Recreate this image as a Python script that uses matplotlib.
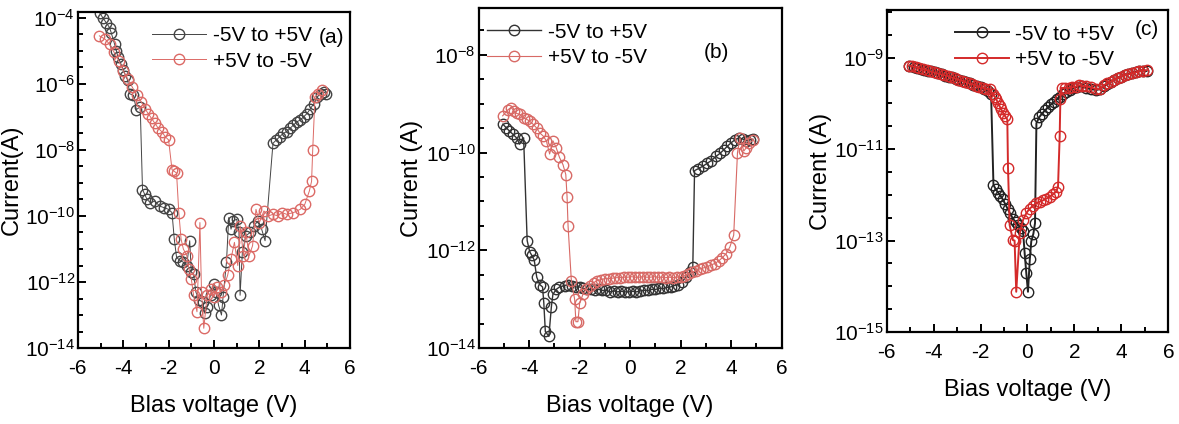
import numpy as np
import matplotlib
matplotlib.use('Agg')
from matplotlib import pyplot as plt
from matplotlib.ticker import FixedLocator, LogFormatterSciNotation, MultipleLocator, NullFormatter

plt.rcParams['font.family'] = ['Liberation Sans', 'DejaVu Sans']
plt.rcParams['mathtext.fontset'] = 'custom'
plt.rcParams['mathtext.rm'] = 'Liberation Sans'
plt.rcParams['axes.unicode_minus'] = False

# ---- panel (a): values, current as log10(A)
a_up_v = [-5.04, -4.9, -4.75, -4.6, -4.53, -4.38, -4.3, -4.23, -4.1, -4.0, -3.9, -3.8, -3.72, -3.55,
          -3.42, -3.25, -3.15, -3.05, -2.95, -2.8, -2.6, -2.4, -2.2, -2.0, -1.85, -1.75, -1.65, -1.5,
          -1.35, -1.2, -1.07, -1.0, -0.9, -0.8, -0.65, -0.5, -0.4, -0.3, -0.15, 0.0, 0.1, 0.2, 0.33,
          0.4, 0.55, 0.65, 0.75, 0.85, 1.0, 1.1, 1.15, 1.25, 1.4, 1.6, 1.75, 1.95, 2.1, 2.25, 2.6,
          2.75, 2.9, 3.05, 3.2, 3.35, 3.5, 3.65, 3.8, 3.95, 4.1, 4.25, 4.4, 4.55, 4.7, 4.85, 4.95]
a_up_logi = [-3.85, -4.0, -4.15, -4.3, -4.45, -4.8, -5.0, -5.2, -5.4, -5.57, -5.75, -5.9, -6.3, -6.35,
             -6.78, -6.7, -9.2, -9.35, -9.5, -9.6, -9.55, -9.7, -9.75, -9.8, -9.9, -10.7, -11.25, -11.35,
             -11.4, -11.5, -10.75, -11.7, -11.75, -12.3, -12.55, -12.6, -12.95, -12.75, -12.4, -12.05,
             -12.3, -12.7, -13.0, -12.45, -11.4, -10.05, -10.4, -10.15, -10.1, -10.5, -12.4, -11.1,
             -10.6, -10.5, -10.3, -10.15, -10.4, -10.75, -7.8, -7.7, -7.6, -7.5, -7.45, -7.35, -7.25,
             -7.15, -7.1, -7.0, -6.9, -6.75, -6.6, -6.4, -6.3, -6.25, -6.3]
a_dn_v = [4.75, 4.6, 4.45, 4.35, 4.3, 4.2, 4.0, 3.8, 3.5, 3.2, 3.0, 2.8, 2.6, 2.4, 2.2, 2.0, 1.85,
          1.7, 1.55, 1.4, 1.3, 1.15, 1.05, 0.9, 0.75, 0.6, 0.45, 0.3, 0.15, 0.0, -0.15, -0.3, -0.45,
          -0.55, -0.62, -0.75, -0.9, -1.0, -1.1, -1.2, -1.35, -1.45, -1.55, -1.65, -1.75, -1.85, -2.0,
          -2.15, -2.3, -2.45, -2.6, -2.75, -2.9, -3.05, -3.2, -3.4, -3.6, -3.8, -4.0, -4.2, -4.4,
          -4.6, -4.8, -5.05]
a_dn_logi = [-6.2, -6.3, -6.4, -8.0, -8.95, -9.25, -9.65, -9.8, -9.9, -9.95, -9.9, -10.0, -9.95,
             -10.0, -9.85, -10.2, -9.8, -10.9, -11.2, -10.5, -11.2, -10.3, -11.5, -10.8, -11.3, -11.8,
             -12.1, -12.3, -12.15, -12.45, -12.2, -12.4, -13.4, -12.3, -10.2, -12.9, -12.4, -11.9,
             -11.6, -11.2, -11.0, -10.7, -9.9, -8.7, -8.65, -8.6, -7.7, -7.6, -7.45, -7.35, -7.2,
             -7.05, -6.9, -6.75, -6.55, -6.35, -6.1, -5.85, -5.6, -5.3, -5.05, -4.8, -4.65, -4.55]

# ---- panel (b)
b_up_v = [-5.04, -4.9, -4.8, -4.64, -4.5, -4.38, -4.22, -4.08, -3.98, -3.9, -3.8, -3.7, -3.58, -3.47,
          -3.42, -3.36, -3.22, -3.12, -3.06, -2.93, -2.8, -2.6, -2.45, -2.3, -2.15, -2.0, -1.85, -1.7,
          -1.55, -1.4, -1.25, -1.1, -0.95, -0.8, -0.65, -0.5, -0.35, -0.2, -0.05, 0.1, 0.25, 0.4, 0.55,
          0.7, 0.85, 1.0, 1.15, 1.3, 1.45, 1.6, 1.75, 1.9, 2.05, 2.2, 2.35, 2.48, 2.55, 2.7, 2.88,
          3.05, 3.2, 3.4, 3.55, 3.7, 3.85, 4.0, 4.15, 4.3, 4.45, 4.6, 4.75, 4.86]
b_up_logi = [-9.42, -9.5, -9.55, -9.63, -9.7, -9.83, -9.7, -11.8, -12.03, -12.1, -12.2, -12.55, -12.7,
             -12.75, -13.08, -13.66, -13.76, -13.15, -12.9, -12.8, -12.75, -12.72, -12.7, -12.72,
             -12.75, -12.75, -12.78, -12.8, -12.8, -12.82, -12.8, -12.82, -12.82, -12.85, -12.83,
             -12.85, -12.84, -12.85, -12.85, -12.84, -12.85, -12.83, -12.82, -12.82, -12.8, -12.8,
             -12.78, -12.78, -12.76, -12.75, -12.72, -12.7, -12.65, -12.55, -12.45, -12.34, -10.37,
             -10.33, -10.28, -10.22, -10.17, -10.08, -10.02, -9.95, -9.87, -9.8, -9.74, -9.7, -9.72,
             -9.76, -9.74, -9.73]
b_dn_v = [4.86, 4.72, 4.6, 4.5, 4.35, 4.25, 4.1, 3.95, 3.8, 3.65, 3.5, 3.35, 3.2, 3.05, 2.9, 2.75,
          2.6, 2.45, 2.3, 2.15, 2.0, 1.85, 1.7, 1.55, 1.4, 1.25, 1.1, 0.95, 0.8, 0.65, 0.5, 0.35, 0.2,
          0.05, -0.1, -0.25, -0.4, -0.55, -0.7, -0.85, -1.0, -1.15, -1.3, -1.45, -1.6, -1.75, -1.87,
          -2.0, -2.07, -2.15, -2.2, -2.33, -2.46, -2.5, -2.55, -2.66, -2.8, -2.93, -3.06, -3.19, -3.32,
          -3.45, -3.58, -3.7, -3.85, -3.98, -4.1, -4.2, -4.38, -4.5, -4.6, -4.72, -4.85, -5.05]
b_dn_logi = [-9.75, -9.8, -9.9, -9.97, -9.7, -10.0, -11.69, -11.93, -12.07, -12.15, -12.22, -12.27,
             -12.3, -12.34, -12.36, -12.38, -12.42, -12.45, -12.48, -12.52, -12.54, -12.55, -12.56,
             -12.55, -12.56, -12.55, -12.55, -12.54, -12.55, -12.55, -12.54, -12.55, -12.55, -12.54,
             -12.55, -12.55, -12.56, -12.56, -12.57, -12.58, -12.58, -12.6, -12.62, -12.66, -12.72,
             -12.8, -12.9, -13.08, -13.46, -13.46, -13.0, -12.62, -11.5, -10.9, -10.45, -10.25, -10.1,
             -9.9, -9.76, -10.03, -9.76, -9.66, -9.6, -9.5, -9.42, -9.36, -9.32, -9.3, -9.22, -9.2,
             -9.15, -9.08, -9.13, -9.25]

# ---- panel (c)
c_up_v = [-5.03, -4.85, -4.7, -4.55, -4.4, -4.25, -4.1, -3.95, -3.8, -3.65, -3.5, -3.35, -3.2, -3.05,
          -2.9, -2.75, -2.6, -2.45, -2.3, -2.15, -2.0, -1.85, -1.7, -1.55, -1.45, -1.35, -1.25, -1.15,
          -1.05, -0.95, -0.85, -0.75, -0.62, -0.5, -0.4, -0.28, -0.19, -0.12, -0.05, 0.02, 0.1, 0.16,
          0.25, 0.32, 0.38, 0.5, 0.62, 0.75, 0.88, 1.0, 1.12, 1.25, 1.37, 1.5, 1.66, 1.8, 1.95, 2.1,
          2.3, 2.5, 2.7, 2.9, 3.08, 3.25, 3.4, 3.55, 3.7, 3.85, 4.0, 4.15, 4.3, 4.45, 4.6, 4.75, 4.9,
          5.07]
c_up_logi = [-9.18, -9.2, -9.22, -9.24, -9.26, -9.28, -9.3, -9.32, -9.34, -9.36, -9.39, -9.41, -9.43,
             -9.46, -9.48, -9.51, -9.53, -9.56, -9.59, -9.62, -9.65, -9.69, -9.73, -9.8, -11.78,
             -11.88, -11.95, -12.02, -12.1, -12.2, -12.3, -12.4, -12.52, -12.6, -12.66, -12.72, -12.8,
             -13.28, -13.72, -14.12, -13.4, -13.02, -12.85, -12.62, -10.43, -10.3, -10.22, -10.15,
             -10.08, -10.02, -9.97, -9.91, -9.85, -9.8, -9.74, -9.7, -9.66, -9.64, -9.62, -9.66,
             -9.69, -9.7, -9.69, -9.62, -9.57, -9.52, -9.48, -9.44, -9.41, -9.38, -9.35, -9.33, -9.31,
             -9.3, -9.28, -9.29]
c_dn_v = [5.07, 4.9, 4.75, 4.6, 4.45, 4.3, 4.15, 4.0, 3.85, 3.7, 3.55, 3.4, 3.25, 3.08, 2.9, 2.7,
          2.5, 2.3, 2.2, 2.05, 1.9, 1.75, 1.6, 1.45, 1.4, 1.37, 1.3, 1.22, 1.1, 0.95, 0.8, 0.66, 0.52,
          0.38, 0.24, 0.09, -0.05, -0.19, -0.33, -0.48, -0.55, -0.62, -0.76, -0.83, -0.86, -0.95,
          -1.05, -1.12, -1.19, -1.26, -1.33, -1.4, -1.47, -1.6, -1.75, -1.9, -2.05, -2.2, -2.35, -2.5,
          -2.65, -2.8, -2.95, -3.1, -3.25, -3.4, -3.55, -3.7, -3.85, -4.0, -4.15, -4.3, -4.45, -4.6,
          -4.75, -4.9, -5.03]
c_dn_logi = [-9.27, -9.28, -9.3, -9.32, -9.34, -9.36, -9.38, -9.41, -9.44, -9.48, -9.52, -9.56, -9.6,
             -9.69, -9.68, -9.65, -9.62, -9.62, -9.6, -9.63, -9.65, -9.66, -9.66, -9.66, -9.9, -10.72,
             -11.82, -11.93, -11.98, -12.04, -12.08, -12.12, -12.15, -12.18, -12.24, -12.3, -12.4,
             -12.55, -12.84, -14.12, -13.0, -12.99, -12.66, -11.41, -10.35, -10.28, -10.2, -10.13,
             -10.06, -9.98, -9.91, -9.85, -9.8, -9.69, -9.68, -9.66, -9.64, -9.61, -9.58, -9.56,
             -9.53, -9.5, -9.48, -9.45, -9.43, -9.4, -9.38, -9.36, -9.34, -9.32, -9.3, -9.27, -9.25,
             -9.23, -9.21, -9.19, -9.17]

lab_up = '-5V to +5V'
lab_dn = '+5V to -5V'


def style(ax, ylo, yhi, major_exp, xlabel, ylabel):
    ax.set_yscale('log')
    ax.set_xlim(-6, 6)
    ax.set_ylim(ylo, yhi)
    ax.xaxis.set_major_locator(MultipleLocator(2))
    ax.xaxis.set_minor_locator(MultipleLocator(1))
    ax.yaxis.set_major_locator(FixedLocator([10.0 ** e for e in major_exp]))
    ax.yaxis.set_major_formatter(LogFormatterSciNotation())
    lo, hi = np.log10(ylo), np.log10(yhi)
    ax.yaxis.set_minor_locator(FixedLocator(10.0 ** np.arange(np.floor(lo), hi, 0.5)))
    ax.yaxis.set_minor_formatter(NullFormatter())
    ax.tick_params(which='both', direction='in', top=False, right=False, width=1.4, labelsize=15)
    ax.tick_params(which='major', length=6)
    ax.tick_params(which='minor', length=3.5)
    ax.tick_params(axis='x', which='major', pad=8)
    ax.tick_params(axis='y', which='major', pad=2)
    for s in ax.spines.values():
        s.set_linewidth(1.6)
    ax.set_xlabel(xlabel, fontsize=17, labelpad=12)
    ax.set_ylabel(ylabel, fontsize=17, labelpad=2)


fig = plt.figure(figsize=(11.79, 4.24), dpi=100)
ax_a = fig.add_axes([0.066, 0.179, 0.231, 0.793])
ax_b = fig.add_axes([0.406, 0.179, 0.257, 0.802])
ax_c = fig.add_axes([0.752, 0.217, 0.239, 0.759])

mk = dict(marker='o', markerfacecolor='none', markersize=7.5, markeredgewidth=1.0)

# (a)
ax_a.plot(a_up_v, 10.0 ** np.array(a_up_logi), color='#444444', lw=0.7, label=lab_up, **mk)
ax_a.plot(a_dn_v, 10.0 ** np.array(a_dn_logi), color='#dc6a66', lw=0.7, label=lab_dn, **mk)
style(ax_a, 1e-14, 1.5e-4, [-14, -12, -10, -8, -6, -4], 'Blas voltage (V)', 'Current(A)')
ax_a.legend(loc='upper left', bbox_to_anchor=(0.22, 1.0), frameon=False, fontsize=15,
            handlelength=2.6, handletextpad=0.3, labelspacing=0.3, borderaxespad=0.3)
ax_a.text(0.93, 0.925, '(a)', transform=ax_a.transAxes, fontsize=15, ha='center', va='center')

# (b)
ax_b.plot(b_up_v, 10.0 ** np.array(b_up_logi), color='#333333', lw=1.0, label=lab_up, **mk)
ax_b.plot(b_dn_v, 10.0 ** np.array(b_dn_logi), color='#d86a66', lw=0.8, label=lab_dn, **mk)
style(ax_b, 1e-14, 9e-8, [-14, -12, -10, -8], 'Bias voltage (V)', 'Current (A)')
ax_b.legend(loc='upper left', bbox_to_anchor=(-0.02, 1.0), frameon=False, fontsize=15,
            handlelength=2.6, handletextpad=0.3, labelspacing=0.3, borderaxespad=0.3)
ax_b.text(0.785, 0.87, '(b)', transform=ax_b.transAxes, fontsize=15, ha='center', va='center')

# (c)
ax_c.plot(c_up_v, 10.0 ** np.array(c_up_logi), color='#222222', lw=1.4, label=lab_up, **mk)
ax_c.plot(c_dn_v, 10.0 ** np.array(c_dn_logi), color='#d42a2a', lw=1.4, label=lab_dn, **mk)
style(ax_c, 1e-15, 1.1e-8, [-15, -13, -11, -9], 'Bias voltage (V)', 'Current (A)')
ax_c.legend(loc='upper left', bbox_to_anchor=(0.19, 1.0), frameon=False, fontsize=15,
            handlelength=2.6, handletextpad=0.3, labelspacing=0.3, borderaxespad=0.3)
ax_c.text(0.925, 0.94, '(c)', transform=ax_c.transAxes, fontsize=15, ha='center', va='center')

fig.savefig('out.png', dpi=100)
